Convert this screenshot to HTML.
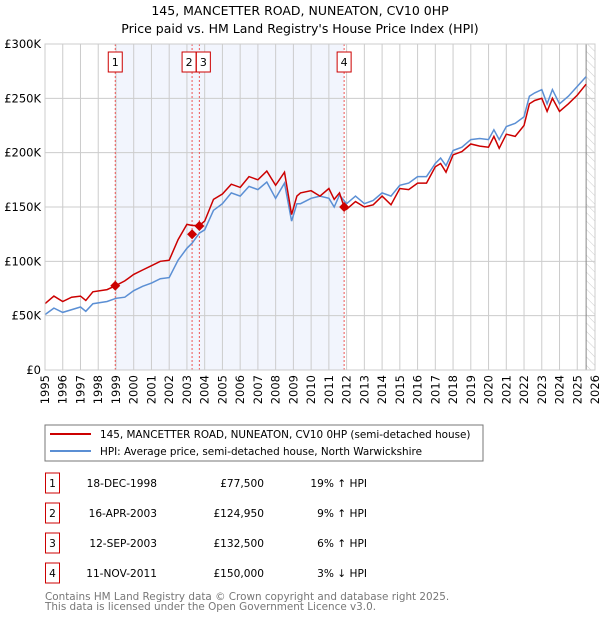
<!DOCTYPE html>
<html><head><meta charset="utf-8"><style>
body{margin:0;background:#fff;}
svg{font-family:"DejaVu Sans","Liberation Sans",sans-serif;display:block}
</style></head><body>
<svg id="c" width="600" height="620">
<defs><pattern id="hatch" width="6" height="6" patternUnits="userSpaceOnUse" patternTransform="rotate(-45)"><line x1="0" y1="0" x2="0" y2="6" stroke="#ccc" stroke-width="1"/></pattern></defs>
<text x="300" y="15" text-anchor="middle" font-size="12.5">145, MANCETTER ROAD, NUNEATON, CV10 0HP</text>
<text x="300" y="33" text-anchor="middle" font-size="12.5">Price paid vs. HM Land Registry's House Price Index (HPI)</text>
<g id="plot"></g>
<rect x="45" y="425" width="438" height="36" fill="#fff" stroke="#777"/>
<line x1="50" y1="434" x2="91" y2="434" stroke="#cc0000" stroke-width="2"/>
<text x="100" y="438" font-size="10.4">145, MANCETTER ROAD, NUNEATON, CV10 0HP (semi-detached house)</text>
<line x1="50" y1="451" x2="91" y2="451" stroke="#5b8fd4" stroke-width="2"/>
<text x="100" y="455" font-size="10.4">HPI: Average price, semi-detached house, North Warwickshire</text>
<g id="table" font-size="10.6"></g>
<text x="45" y="600" font-size="10.4" fill="#777">Contains HM Land Registry data © Crown copyright and database right 2025.</text>
<text x="45" y="610" font-size="10.4" fill="#777">This data is licensed under the Open Government Licence v3.0.</text>
</svg>
<script>
const hpiYears=[1995,1995.5,1996,1997,1997.3,1997.7,1998.5,1999,1999.5,2000,2000.5,2001,2001.5,2002,2002.5,2003,2003.3,2003.7,2004,2004.5,2005,2005.5,2006,2006.5,2007,2007.5,2008,2008.5,2008.9,2009.2,2009.4,2010,2010.5,2011,2011.3,2011.6,2012,2012.5,2013,2013.5,2014,2014.5,2015,2015.5,2016,2016.5,2017,2017.3,2017.6,2018,2018.5,2019,2019.5,2020,2020.3,2020.6,2021,2021.5,2022,2022.3,2022.6,2023,2023.3,2023.6,2024,2024.5,2025,2025.5];
const hpiValues=[51,57,53,58,54,61,63,66,67,73,77,80,84,85,101,112,117,126,129,147,153,163,160,169,166,173,158,172,137,153,153,158,160,158,150,161,153,160,153,156,163,160,170,172,178,178,190,195,188,202,205,212,213,212,221,212,224,227,233,252,255,258,245,258,245,252,261,270];
const redYears=[1995,1995.5,1996,1996.5,1997,1997.3,1997.7,1998.5,1998.96,1999.5,2000,2000.5,2001,2001.5,2002,2002.5,2003,2003.3,2003.7,2004,2004.5,2005,2005.5,2006,2006.5,2007,2007.5,2008,2008.5,2008.9,2009.2,2009.4,2010,2010.5,2011,2011.3,2011.6,2011.86,2012,2012.5,2013,2013.5,2014,2014.5,2015,2015.5,2016,2016.5,2017,2017.3,2017.6,2018,2018.5,2019,2019.5,2020,2020.3,2020.6,2021,2021.5,2022,2022.3,2022.6,2023,2023.3,2023.6,2024,2024.5,2025,2025.5];
const redValues=[61,68,63,67,68,64,72,74,77.5,82,88,92,96,100,101,120,134,133,133,137,157,162,171,168,178,175,183,170,182,143,160,163,165,160,167,157,163,150,148,155,150,152,160,152,167,166,172,172,187,190,182,198,201,208,206,205,215,204,217,215,225,245,248,250,238,250,238,245,253,263];
const saleLabels=["1","2","3","4"];
const saleYears=[1998.96,2003.29,2003.7,2011.86];
const salePrices=[77500,124950,132500,150000];
const saleDates=["18-DEC-1998","16-APR-2003","12-SEP-2003","11-NOV-2011"];
const salePriceText=["£77,500","£124,950","£132,500","£150,000"];
const saleHpiText=["19% ↑ HPI","9% ↑ HPI","6% ↑ HPI","3% ↓ HPI"];
const yTicks=[0,50,100,150,200,250,300];
const yTickLabels=["£0","£50K","£100K","£150K","£200K","£250K","£300K"];
const xTicks=[1995,1996,1997,1998,1999,2000,2001,2002,2003,2004,2005,2006,2007,2008,2009,2010,2011,2012,2013,2014,2015,2016,2017,2018,2019,2020,2021,2022,2023,2024,2025,2026];

const X0=45,X1=595,Y0=370,Y1=44;
const xs=y=>X0+(y-1995)/(2026-1995)*(X1-X0);
const ys=v=>Y0-v/300*(Y0-Y1);
const NS="http://www.w3.org/2000/svg";
const plot=document.getElementById('plot');
function mk(tag,attrs,parent){const e=document.createElementNS(NS,tag);for(const k in attrs)e.setAttribute(k,attrs[k]);(parent||plot).appendChild(e);return e;}

let e=mk('rect',{x:xs(saleYears[0]),y:Y1,width:xs(saleYears[3])-xs(saleYears[0]),height:Y0-Y1,fill:'#f2f5fd'});


e=mk('rect',{x:xs(2025.5),y:Y1,width:X1-xs(2025.5),height:Y0-Y1,fill:'url(#hatch)'});


xTicks.forEach(t=>{
  e=mk('line',{x1:xs(t),x2:xs(t),y1:Y1,y2:Y0,stroke:'#ccc','stroke-width':1});
  
  
  e=mk('text',{transform:`translate(${xs(t)+4},${Y0+5}) rotate(-90)`,'text-anchor':'end','font-size':11.5});
  e.textContent=t;
  
  
});
yTicks.forEach((t,i)=>{
  e=mk('line',{x1:X0,x2:X1,y1:ys(t),y2:ys(t),stroke:'#ccc','stroke-width':1});
  
  
  e=mk('text',{x:X0-4,y:ys(t)+4,'text-anchor':'end','font-size':11.5});
  e.textContent=yTickLabels[i];
  
  
});
e=mk('line',{x1:xs(2025.5),x2:xs(2025.5),y1:Y1,y2:Y0,stroke:'#888','stroke-width':1});


const boxOff=[-7,-10,-3,-7];
saleYears.forEach((y,i)=>{
  e=mk('line',{x1:xs(y),x2:xs(y),y1:Y1,y2:Y0,stroke:'#e55','stroke-width':1,'stroke-dasharray':'2,2'});
  
  
  e=mk('rect',{x:xs(y)+boxOff[i],y:52,width:14,height:20,fill:'#fff',stroke:'#c00'});
  
  
  e=mk('text',{x:xs(y)+boxOff[i]+7,y:66,'text-anchor':'middle','font-size':11});
  e.textContent=saleLabels[i];
  
  
});
const path=(xa,va)=>xa.map((x,i)=>(i?'L':'M')+xs(x).toFixed(1)+','+ys(va[i]).toFixed(1)).join('');
e=mk('path',{d:path(hpiYears,hpiValues),fill:'none',stroke:'#5b8fd4','stroke-width':1.5});


e=mk('path',{d:path(redYears,redValues),fill:'none',stroke:'#cc0000','stroke-width':1.5});


saleYears.forEach((y,i)=>{
  const cx=xs(y),cy=ys(salePrices[i]/1000);
  e=mk('path',{d:`M${cx},${cy-5}L${cx+5},${cy}L${cx},${cy+5}L${cx-5},${cy}Z`,fill:'#cc0000'});
  
  
});
e=mk('rect',{x:X0,y:Y1,width:X1-X0,height:Y0-Y1,fill:'none',stroke:'#ccc'});



const tb=document.getElementById('table');
saleLabels.forEach((l,i)=>{
  const cy=483+i*30;
  e=mk('rect',{x:45.5,y:cy-10,width:14,height:20,fill:'#fff',stroke:'#c00'},tb);
  
  
  e=mk('text',{x:52.5,y:cy+4,'text-anchor':'middle'},tb);e.textContent=l;
  
  
  e=mk('text',{x:157,y:cy+4,'text-anchor':'end'},tb);e.textContent=saleDates[i];
  
  
  e=mk('text',{x:264,y:cy+4,'text-anchor':'end'},tb);e.textContent=salePriceText[i];
  
  
  e=mk('text',{x:367,y:cy+4,'text-anchor':'end'},tb);e.textContent=saleHpiText[i];
  
  
});
</script>
</body></html>
